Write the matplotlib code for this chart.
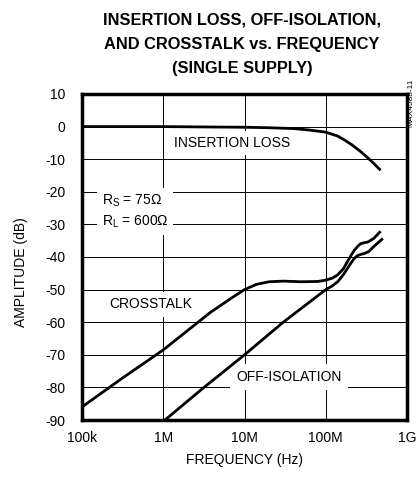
import matplotlib
matplotlib.use("Agg")
import matplotlib.pyplot as plt
import numpy as np

plt.rcParams['font.family'] = ['Liberation Sans', 'DejaVu Sans']
plt.rcParams['mathtext.default'] = 'regular'
plt.rcParams['axes.unicode_minus'] = False

# data (frequency in Hz, amplitude in dB)
il_freq = [1e5, 1e6, 3e6, 1e7, 2e7, 4e7, 6e7, 1e8, 1.4e8, 1.7e8, 2.1e8, 2.7e8, 3.3e8, 3.9e8, 4.6e8]
il_db = [0.0, 0.0, -0.1, -0.2, -0.35, -0.6, -1.0, -1.7, -2.9, -4.1, -5.6, -7.7, -9.6, -11.3, -13.1]

xt_freq = [1e5, 3e5, 1e6, 3.8e6, 7e6, 1e7, 1.4e7, 2e7, 3e7, 5e7, 8e7, 1e8, 1.2e8, 1.4e8,
           1.65e8, 1.85e8, 2.05e8, 2.25e8, 2.5e8, 2.7e8, 3e8, 3.3e8, 3.9e8, 4.6e8]
xt_db = [-86.0, -77.5, -68.5, -57.0, -52.5, -50.0, -48.4, -47.6, -47.4, -47.6, -47.5, -47.1,
         -46.5, -45.5, -43.6, -41.4, -39.5, -37.9, -36.6, -35.9, -35.6, -35.4, -34.3, -32.4]

oi_freq = [1.05e6, 3e6, 1e7, 3e7, 1e8, 1.2e8, 1.4e8, 1.65e8, 1.85e8, 2.05e8, 2.25e8,
           2.45e8, 2.7e8, 3e8, 3.4e8, 3.9e8, 4.9e8]
oi_db = [-90.0, -80.5, -70.0, -60.0, -50.0, -48.9, -47.6, -45.4, -43.5, -41.8, -40.4,
         -39.6, -39.2, -38.9, -38.3, -36.8, -34.6]

x_ticks = [1e5, 1e6, 1e7, 1e8, 1e9]
x_tick_labels = ['100k', '1M', '10M', '100M', '1G']
y_ticks = list(range(-90, 11, 10))

fig = plt.figure(figsize=(4.18, 4.78), dpi=100)
ax = fig.add_axes([82 / 418, 1 - 420 / 478, 325 / 418, 326 / 478])

ax.plot(il_freq, il_db, color='black', lw=2.0, zorder=3)
ax.plot(xt_freq, xt_db, color='black', lw=2.0, zorder=3)
ax.plot(oi_freq, oi_db, color='black', lw=2.0, zorder=3)

ax.set_xscale('log')
ax.set_xlim(1e5, 1e9)
ax.set_ylim(-90, 10)
ax.set_xticks(x_ticks)
ax.set_xticklabels(x_tick_labels)
ax.set_yticks(y_ticks)
ax.minorticks_off()
ax.tick_params(length=0, labelsize=10)
ax.tick_params(axis='x', pad=8)
ax.tick_params(axis='y', pad=12)
ax.grid(True, color='black', lw=0.7)
ax.set_axisbelow(True)
for s in ax.spines.values():
    s.set_linewidth(2.5)

ax.text(7.0e6, -5, 'INSERTION LOSS', fontsize=10, ha='center', va='center',
        bbox=dict(facecolor='white', edgecolor='none', pad=3.5), zorder=2)
ax.text(1.75e5, -26.0, 'R$_{S}$ = 75Ω\nR$_{L}$ = 600Ω', fontsize=10, ha='left', va='center',
        linespacing=1.35, bbox=dict(facecolor='white', edgecolor='none', pad=3.5), zorder=2)
ax.text(7.0e5, -54.5, 'CROSSTALK', fontsize=10, ha='center', va='center',
        bbox=dict(facecolor='white', edgecolor='none', pad=4), zorder=2)
ax.text(3.5e7, -76.8, 'OFF-ISOLATION', fontsize=10, ha='center', va='center',
        bbox=dict(facecolor='white', edgecolor='none', pad=4.5), zorder=2)

ax.set_xlabel('FREQUENCY (Hz)', fontsize=10, labelpad=6)
fig.text(21 / 418, 1 - 272 / 478, 'AMPLITUDE (dB)', rotation=90, fontsize=10,
         ha='center', va='center')
fig.text(411 / 418, 1 - 103 / 478, 'MAX4588-11', rotation=90, fontsize=6,
         ha='center', va='center')

title = 'INSERTION LOSS, OFF-ISOLATION,\nAND CROSSTALK vs. FREQUENCY\n(SINGLE SUPPLY)'
fig.text(242 / 418, 1 - 44 / 478, title, fontsize=11.8, fontweight='bold', ha='center',
         va='center', linespacing=1.78)

fig.savefig('out.png', dpi=100)
